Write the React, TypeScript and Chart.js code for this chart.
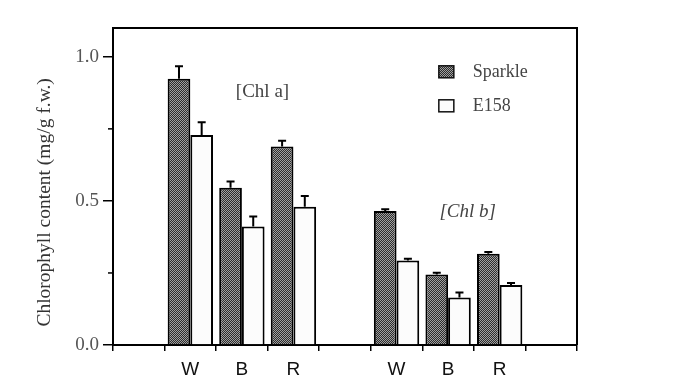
import React, { useEffect, useRef } from 'react';
import { Chart, registerables } from 'chart.js';
Chart.register(...registerables);

const categories = ['', 'W', 'B', 'R', '', 'W', 'B', 'R', ''];
const sparkle = [null, 0.924, 0.546, 0.689, null, 0.465, 0.245, 0.317, null];
const sparkleErr = [null, 0.043, 0.021, 0.02, null, 0.006, 0.006, 0.006, null];
const e158 = [null, 0.729, 0.411, 0.48, null, 0.293, 0.165, 0.208, null];
const e158Err = [null, 0.044, 0.035, 0.037, null, 0.006, 0.017, 0.007, null];
const yTickValues = [0, 0.25, 0.5, 0.75, 1.0];
const yTickLabels = ['0.0', '', '0.5', '', '1.0'];
const seriesNames = ['Sparkle', 'E158'];
const yTitle = 'Chlorophyll content (mg/g f.w.)';
const groupLabels = ['[Chl a]', '[Chl b]'];

const SERIF = '"Liberation Serif", "Times New Roman", serif';
const SANS = '"Liberation Sans", Arial, sans-serif';

function makePattern(): CanvasPattern | string {
  const c = document.createElement('canvas');
  c.width = 2;
  c.height = 2;
  const g = c.getContext('2d');
  if (!g) return '#555';
  g.fillStyle = '#2c2c2c';
  g.fillRect(0, 0, 2, 2);
  g.fillStyle = '#a0a0a0';
  g.fillRect(0, 0, 1, 1);
  g.fillRect(1, 1, 1, 1);
  const p = g.createPattern(c, 'repeat');
  return p || '#555';
}

export default function App() {
  const ref = useRef<HTMLCanvasElement>(null);
  useEffect(() => {
    if (!ref.current) return;
    const pattern = makePattern();
    const errs = [sparkleErr, e158Err];

    const decor = {
      id: 'decor',
      afterDatasetsDraw(chart: any) {
        const ctx = chart.ctx;
        const y = chart.scales.y;
        const x = chart.scales.x;
        const area = chart.chartArea;
        ctx.save();
        // error bars
        ctx.strokeStyle = '#000';
        ctx.lineWidth = 2;
        chart.data.datasets.forEach((ds: any, di: number) => {
          const meta = chart.getDatasetMeta(di);
          meta.data.forEach((el: any, i: number) => {
            const v = ds.data[i];
            const e = errs[di][i];
            if (v == null || e == null) return;
            const y0 = y.getPixelForValue(v);
            const y1 = y.getPixelForValue(v + e);
            ctx.beginPath();
            ctx.moveTo(el.x, y0);
            ctx.lineTo(el.x, y1);
            ctx.moveTo(el.x - 4, y1);
            ctx.lineTo(el.x + 4, y1);
            ctx.stroke();
          });
        });
        // frame top & right
        ctx.lineWidth = 2;
        ctx.beginPath();
        ctx.moveTo(area.left, area.top);
        ctx.lineTo(area.right, area.top);
        ctx.lineTo(area.right, area.bottom);
        ctx.stroke();
        // minor y ticks
        ctx.lineWidth = 1.5;
        [0.25, 0.75].forEach((v) => {
          const py = y.getPixelForValue(v);
          ctx.beginPath();
          ctx.moveTo(area.left - 5, py);
          ctx.lineTo(area.left, py);
          ctx.stroke();
        });
        // y title
        ctx.fillStyle = '#333';
        ctx.font = '19.5px ' + SERIF;
        ctx.textAlign = 'center';
        ctx.textBaseline = 'middle';
        ctx.save();
        ctx.translate(45, y.getPixelForValue(0.495));
        ctx.rotate(-Math.PI / 2);
        ctx.fillText(yTitle, 0, 0);
        ctx.restore();
        // group labels
        ctx.fillStyle = '#444';
        ctx.font = '19px ' + SERIF;
        ctx.fillText(groupLabels[0], x.getPixelForValue(2.4), y.getPixelForValue(0.878));
        ctx.font = 'italic 19px ' + SERIF;
        ctx.fillText(groupLabels[1], x.getPixelForValue(6.38), y.getPixelForValue(0.462));
        // legend
        const lx = x.getPixelForValue(5.82);
        const rows = [y.getPixelForValue(0.948), y.getPixelForValue(0.83)];
        chart.data.datasets.forEach((ds: any, di: number) => {
          const cy = rows[di];
          ctx.fillStyle = ds.backgroundColor;
          ctx.fillRect(lx, cy - 6, 15, 12);
          ctx.strokeStyle = '#111';
          ctx.lineWidth = 1.5;
          ctx.strokeRect(lx, cy - 6, 15, 12);
          ctx.fillStyle = '#444';
          ctx.font = '18px ' + SERIF;
          ctx.textAlign = 'left';
          ctx.fillText(seriesNames[di], lx + 34, cy);
        });
        ctx.restore();
      },
    };

    const chart = new Chart(ref.current, {
      type: 'bar',
      data: {
        labels: categories,
        datasets: [
          {
            label: seriesNames[0],
            data: sparkle,
            backgroundColor: pattern as any,
            borderColor: '#000',
            borderWidth: 2,
            categoryPercentage: 0.88,
            barPercentage: 1,
          },
          {
            label: seriesNames[1],
            data: e158,
            backgroundColor: '#fcfcfc',
            borderColor: '#000',
            borderWidth: 2,
            categoryPercentage: 0.88,
            barPercentage: 1,
          },
        ],
      },
      plugins: [decor],
      options: {
        responsive: false,
        animation: false,
        layout: { padding: { top: 28, right: 106, left: 0, bottom: 0 } },
        plugins: { legend: { display: false }, tooltip: { enabled: false } },
        scales: {
          x: {
            grid: { offset: true, drawOnChartArea: false, tickLength: 6, color: '#000', lineWidth: 1.5 },
            border: { color: '#000', width: 2 },
            ticks: { color: '#111', font: { family: SANS, size: 19 }, padding: 7, maxRotation: 0, autoSkip: false },
            afterFit: (s: any) => {
              s.height = 45;
            },
          },
          y: {
            min: 0,
            max: 1.1,
            afterBuildTicks: (s: any) => {
              s.ticks = yTickValues.map((v) => ({ value: v }));
            },
            afterFit: (s: any) => {
              s.width = 113;
            },
            grid: {
              drawOnChartArea: false,
              tickLength: 10,
              lineWidth: 1.5,
              color: (c: any) => (yTickLabels[c.index] ? '#000' : 'rgba(0,0,0,0)'),
            },
            border: { color: '#000', width: 2 },
            ticks: {
              color: '#555',
              font: { family: SERIF, size: 19 },
              padding: 4,
              callback: (_v: any, i: number) => yTickLabels[i],
            },
          },
        },
      },
    });
    return () => chart.destroy();
  }, []);
  return (
    <div style={{ position: 'fixed', left: 0, top: 0, width: 683, height: 390, background: '#fff' }}>
      <canvas ref={ref} width={683} height={390} />
    </div>
  );
}
